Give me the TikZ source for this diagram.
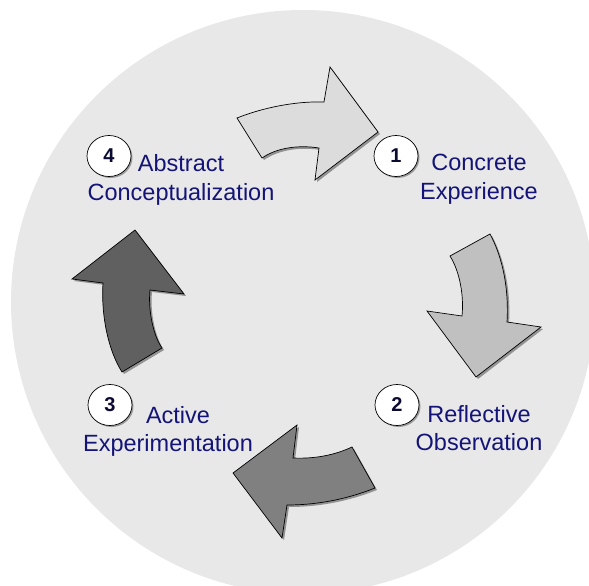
\documentclass[tikz,border=0pt]{standalone}
\usepackage{fontspec}
\setmainfont{Liberation Sans}
\usetikzlibrary{shadows,shapes.geometric}
\definecolor{bgc}{RGB}{232,232,232}
\definecolor{navy}{RGB}{20,20,120}
\definecolor{numc}{RGB}{10,10,50}
\definecolor{arA}{RGB}{220,220,220}
\definecolor{arB}{RGB}{192,192,192}
\definecolor{arC}{RGB}{128,128,128}
\definecolor{arD}{RGB}{96,96,96}
\begin{document}
\begin{tikzpicture}[x=1pt,y=-1pt,
  bigarrow/.style={draw=black,line width=0.7pt,line join=miter,
    drop shadow={shadow xshift=2pt,shadow yshift=-2pt,opacity=.55,fill=black!70}},
  numcircle/.style={ellipse,draw=black,line width=0.7pt,fill=white,minimum width=44pt,minimum height=41pt,inner sep=0pt,
    font=\fontsize{20}{20}\selectfont\bfseries,text=numc,
    drop shadow={shadow xshift=1.5pt,shadow yshift=-1.5pt,opacity=.5,fill=black!70}},
  lbl/.style={anchor=base,inner sep=0pt,text=navy,font=\fontsize{23.5}{28}\selectfont}]
\useasboundingbox (0,0) rectangle (589,586);
\clip (0,0) rectangle (589,586);
\fill[bgc] (303,302) circle[radius=292];

% arrow 1 (top)
\path[bigarrow,fill=arA] (237,118) .. controls (262,108) and (295,101) .. (324,102) -- (330,67) -- (378,132) -- (315,180) -- (319,148) .. controls (300,145) and (278,147) .. (262,158) -- cycle;
% arrow 2 (right)
\path[bigarrow,fill=arB] (450,256) -- (490,234) .. controls (503,258) and (509,290) .. (507,322) -- (541,327) -- (476,377) -- (427,311) -- (462,316) .. controls (464,296) and (460,272) .. (450,256) -- cycle;
% arrow 3 (bottom)
\path[bigarrow,fill=arC] (352,447) -- (375,488) .. controls (345,500) and (315,505) .. (287,505) -- (282,538) -- (233,473) -- (297,425) -- (293,458) .. controls (315,459) and (335,455) .. (352,447) -- cycle;
% arrow 4 (left)
\path[bigarrow,fill=arD] (122,372) -- (162,348) .. controls (153,335) and (148,310) .. (150,290) -- (184,294) -- (135,230) -- (72,279) -- (103,283) .. controls (101,315) and (108,350) .. (122,372) -- cycle;

% numbers
\node[numcircle] (n4) at (109,156) {4};
\node[numcircle] (n1) at (396,156) {1};
\node[numcircle] (n2) at (397,405) {2};
\node[numcircle] (n3) at (110,405) {3};

% labels
\node[lbl] (l4a) at (181,171) {Abstract};
\node[lbl] (l4b) at (181,200) {Conceptualization};
\node[lbl] (l1a) at (479,170) {Concrete};
\node[lbl] (l1b) at (479,199) {Experience};
\node[lbl] (l2a) at (479,422) {Reflective};
\node[lbl] (l2b) at (479,450) {Observation};
\node[lbl] (l3a) at (178,423) {Active};
\node[lbl] (l3b) at (168,451) {Experimentation};
\end{tikzpicture}
\end{document}
